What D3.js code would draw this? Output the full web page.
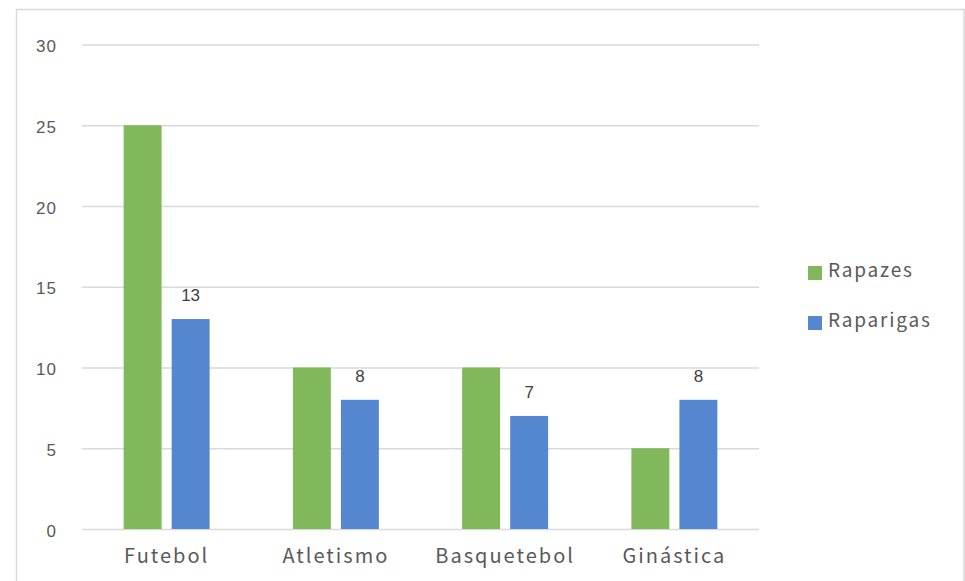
<!DOCTYPE html>
<html>
<head>
<meta charset="utf-8">
<script src="https://cdn.jsdelivr.net/npm/d3@7"></script>
<style>
  html, body { margin: 0; padding: 0; background: #fff; }
  svg { display: block; }
</style>
</head>
<body>
<svg id="chart" width="965" height="581"></svg>
<script>
const categories = ["Futebol", "Atletismo", "Basquetebol", "Ginástica"];
const seriesNames = ["Rapazes", "Raparigas"];
const rapazes = [25, 10, 10, 5];
const raparigas = [13, 8, 7, 8];
const yTicks = [0, 5, 10, 15, 20, 25, 30];
const colors = ["#81b85b", "#5587d1"];
const labelledSeries = ["Raparigas"];

(function () {
const seriesValues = { "Rapazes": rapazes, "Raparigas": raparigas };

const svg = d3.select("#chart");
const W = 965, H = 581;
const mLeft = 82, mRight = 759, mTop = 44.5, mBottom = 529;
const catFont = "'Noto Sans CJK JP', 'Noto Sans', sans-serif";
const numFont = "'Liberation Sans', Arial, sans-serif";
const textColor = "#595959";

// outer border
svg.append("rect")
  .attr("x", 16.5).attr("y", 9.5)
  .attr("width", W - 16.5 - 1).attr("height", H)
  .attr("fill", "none").attr("stroke", "#d9d9d9").attr("stroke-width", 1.5);

const y = d3.scaleLinear().domain([0, 30]).range([mBottom, mTop]);
const x0 = d3.scaleBand().domain(categories).range([mLeft, mRight])
  .paddingInner(0.492).paddingOuter(0.246);
const x1 = d3.scaleBand().domain(seriesNames).range([0, x0.bandwidth()])
  .paddingInner(0.21);

// gridlines
const yAxis = d3.axisLeft(y).tickValues(yTicks).tickSize(-(mRight - mLeft)).tickPadding(25).tickFormat(d3.format("d"));
const gy = svg.append("g").attr("transform", `translate(${mLeft},0)`).call(yAxis);
gy.select(".domain").remove();
gy.selectAll(".tick line").attr("stroke", "#d9d9d9").attr("stroke-width", 1.5);
gy.selectAll(".tick text")
  .attr("fill", textColor)
  .style("font-family", numFont)
  .style("font-size", "17px")
  .style("letter-spacing", "1px")
  .attr("dy", "0.42em");

// bars
const groups = svg.append("g").selectAll("g")
  .data(categories).join("g")
  .attr("transform", d => `translate(${x0(d)},0)`);

groups.selectAll("rect")
  .data((c, i) => seriesNames.map((s, k) => ({ s, v: seriesValues[s][i], k })))
  .join("rect")
  .attr("x", d => x1(d.s))
  .attr("width", x1.bandwidth())
  .attr("y", d => y(d.v))
  .attr("height", d => y(0) - y(d.v))
  .attr("fill", d => colors[d.k]);

// data labels
groups.selectAll("text.lbl")
  .data((c, i) => seriesNames.filter(s => labelledSeries.includes(s)).map(s => ({ s, v: seriesValues[s][i] })))
  .join("text")
  .attr("class", "lbl")
  .attr("x", d => x1(d.s) + x1.bandwidth() / 2)
  .attr("y", d => y(d.v) - 18)
  .attr("text-anchor", "middle")
  .attr("fill", "#404040")
  .style("font-family", numFont)
  .style("font-size", "17px")
  .text(d => d.v);

// x axis labels
const xAxis = d3.axisBottom(x0).tickSize(0).tickPadding(0);
const gx = svg.append("g").attr("transform", `translate(0,${mBottom})`).call(xAxis);
gx.select(".domain").remove();
gx.selectAll(".tick text")
  .attr("y", 34)
  .attr("dy", 0)
  .attr("fill", textColor)
  .style("font-family", catFont)
  .style("font-size", "20px")
  .style("letter-spacing", "2px");

// legend
const legend = svg.append("g");
const legendY = [266, 316];
seriesNames.forEach((s, k) => {
  legend.append("rect")
    .attr("x", 808).attr("y", legendY[k])
    .attr("width", 14).attr("height", 14)
    .attr("fill", colors[k]);
  legend.append("text")
    .attr("x", 828).attr("y", legendY[k] + 11)
    .attr("fill", textColor)
    .style("font-family", catFont)
    .style("font-size", "19px")
    .style("letter-spacing", "1.8px")
    .text(s);
});
})();
</script>
</body>
</html>
